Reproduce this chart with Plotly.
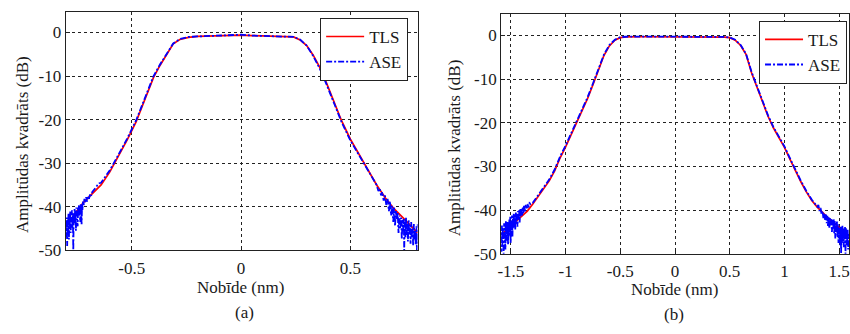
import plotly.graph_objects as go

# ---------------- data: panel (a) ----------------
tls_a_x = [-0.802, -0.78, -0.76, -0.72, -0.68, -0.64, -0.60, -0.56, -0.52, -0.48, -0.44, -0.40,
           -0.37, -0.34, -0.31, -0.28, -0.24, -0.20, -0.15, -0.10, -0.05, 0.00, 0.05, 0.10,
           0.15, 0.20, 0.24, 0.27, 0.30, 0.33, 0.36, 0.39, 0.42, 0.46, 0.50, 0.54, 0.58,
           0.62, 0.66, 0.70, 0.74, 0.78, 0.807]
tls_a_y = [-44.5, -43.2, -41.6, -39.0, -37.0, -35.0, -32.0, -28.3, -24.6, -20.5, -15.5, -10.3,
           -7.5, -5.0, -2.6, -1.6, -1.1, -0.9, -0.8, -0.7, -0.6, -0.6, -0.7, -0.8,
           -0.8, -0.9, -1.0, -1.7, -3.0, -5.2, -8.0, -11.5, -15.3, -20.3, -24.5, -28.0, -31.5,
           -35.0, -38.0, -40.5, -42.5, -44.5, -46.0]

ase_a_x = [-0.801, -0.799, -0.797, -0.795, -0.793, -0.791, -0.789, -0.787, -0.785, -0.783,
           -0.781, -0.779, -0.777, -0.775, -0.773, -0.771, -0.769, -0.767, -0.765, -0.763,
           -0.761, -0.759, -0.757, -0.755, -0.753, -0.751, -0.749, -0.747, -0.745, -0.743,
           -0.741, -0.739, -0.737, -0.735, -0.733, -0.731, -0.729, -0.727, -0.725, -0.723,
           -0.720, -0.716, -0.712, -0.708, -0.704, -0.700, -0.695, -0.690, -0.685, -0.680,
           -0.672, -0.664, -0.656, -0.648, -0.64, -0.60, -0.56, -0.52, -0.48, -0.44, -0.40,
           -0.37, -0.34, -0.31, -0.28, -0.24, -0.20, -0.15, -0.10, -0.05, 0.00, 0.05, 0.10,
           0.15, 0.20, 0.24, 0.27, 0.30, 0.33, 0.36, 0.39, 0.42, 0.46, 0.50, 0.54, 0.58, 0.62,
           0.628, 0.634, 0.640, 0.646, 0.652, 0.658, 0.664, 0.670, 0.676, 0.681, 0.686,
           0.691, 0.696, 0.700, 0.704, 0.708, 0.712, 0.716, 0.720, 0.724, 0.728, 0.732,
           0.735, 0.738, 0.741, 0.744, 0.746, 0.748, 0.751, 0.754, 0.757, 0.760, 0.763,
           0.766, 0.769, 0.772, 0.775, 0.778, 0.781, 0.784, 0.787, 0.790, 0.793, 0.796,
           0.799, 0.802, 0.804, 0.806, 0.808]
ase_a_y = [-44.0, -47.0, -42.5, -49.0, -43.0, -45.5, -41.5, -47.5, -42.0, -44.5,
           -41.0, -46.0, -42.5, -43.5, -40.8, -45.0, -42.0, -50.0, -41.5, -44.0,
           -40.5, -43.5, -41.0, -45.5, -40.2, -42.5, -41.5, -44.5, -40.0, -42.0,
           -39.5, -41.8, -40.2, -43.5, -39.2, -41.0, -44.0, -39.4, -40.8, -38.8,
           -39.8, -38.2, -39.2, -37.8, -38.8, -37.6, -38.2, -37.0, -37.5, -36.6,
           -36.2, -35.6, -35.0, -34.6, -34.5, -31.6, -28.0, -24.3, -20.2, -15.2, -10.0,
           -7.3, -4.9, -2.5, -1.5, -1.0, -0.9, -0.8, -0.7, -0.6, -0.5, -0.7, -0.8,
           -0.8, -0.9, -1.0, -1.6, -3.0, -5.4, -8.3, -11.8, -15.6, -20.6, -24.8, -28.3, -31.8, -35.0,
           -36.4, -35.8, -37.4, -36.6, -38.6, -37.4, -39.6, -38.2, -41.0, -38.8, -42.0,
           -39.8, -43.5, -40.2, -44.5, -41.0, -43.0, -41.2, -46.0, -42.0, -45.0, -42.5,
           -47.5, -43.0, -45.5, -42.8, -50.0, -43.5, -47.0, -42.5, -46.5, -44.0, -48.0,
           -43.0, -46.5, -44.2, -48.5, -43.5, -47.0, -45.0, -49.0, -44.0, -47.5, -45.5,
           -48.8, -44.5, -50.0, -46.0, -44.0]

# ---------------- data: panel (b) ----------------
tls_b_x = [-1.59, -1.55, -1.50, -1.45, -1.40, -1.35, -1.30, -1.25, -1.20, -1.15, -1.10, -1.05,
           -1.00, -0.95, -0.90, -0.85, -0.80, -0.75, -0.70, -0.65, -0.60, -0.55, -0.50,
           -0.45, -0.30, 0.00, 0.30, 0.45, 0.50, 0.55, 0.60, 0.65, 0.70, 0.75, 0.80, 0.85,
           0.90, 0.95, 1.00, 1.05, 1.10, 1.15, 1.20, 1.25, 1.30, 1.35, 1.40, 1.45, 1.50,
           1.55, 1.59]
tls_b_y = [-45.5, -44.8, -43.6, -42.4, -41.3, -40.2, -38.6, -36.8, -35.2, -33.3, -31.0, -28.0,
           -25.5, -22.8, -20.0, -17.3, -14.5, -11.3, -8.0, -4.6, -2.4, -1.1, -0.5,
           -0.35, -0.3, -0.3, -0.35, -0.4, -0.5, -1.1, -2.3, -4.4, -8.6, -12.0, -15.5, -18.5,
           -21.2, -23.5, -25.6, -28.3, -31.0, -33.5, -35.8, -37.8, -39.3, -40.6, -41.8, -42.8, -44.0,
           -45.5, -46.5]

ase_b_x = [-1.590, -1.586, -1.582, -1.578, -1.574, -1.570, -1.566, -1.562, -1.558, -1.554,
           -1.550, -1.546, -1.542, -1.538, -1.534, -1.530, -1.526, -1.522, -1.518, -1.514,
           -1.510, -1.506, -1.502, -1.498, -1.494, -1.490, -1.486, -1.482, -1.478, -1.474,
           -1.470, -1.465, -1.460, -1.455, -1.450, -1.445, -1.440, -1.435, -1.430, -1.425,
           -1.420, -1.415, -1.410, -1.404, -1.398, -1.392, -1.386, -1.380, -1.372, -1.364,
           -1.356, -1.348, -1.340, -1.330, -1.320, -1.30, -1.25, -1.20, -1.15, -1.10, -1.05,
           -1.00, -0.95, -0.90, -0.85, -0.80, -0.75, -0.70, -0.65, -0.60, -0.55, -0.50, -0.45,
           -0.30, 0.00, 0.30, 0.45, 0.50, 0.55, 0.60, 0.65, 0.70, 0.75, 0.80, 0.85, 0.90, 0.95,
           1.00, 1.05, 1.10, 1.15, 1.20, 1.25,
           1.300, 1.310, 1.320, 1.330, 1.340, 1.348, 1.356, 1.364, 1.372, 1.380, 1.386,
           1.392, 1.398, 1.404, 1.410, 1.416, 1.422, 1.428, 1.434, 1.440, 1.445, 1.450,
           1.455, 1.460, 1.465, 1.470, 1.475, 1.480, 1.485, 1.490, 1.494, 1.498, 1.502,
           1.506, 1.510, 1.514, 1.518, 1.522, 1.526, 1.530, 1.534, 1.538, 1.542, 1.546,
           1.550, 1.554, 1.558, 1.562, 1.566, 1.570, 1.574, 1.578, 1.582, 1.586, 1.590]
ase_b_y = [-46.0, -49.5, -43.5, -48.0, -44.0, -47.5, -50.0, -43.0, -46.5, -44.5,
           -49.0, -42.5, -47.0, -43.5, -45.5, -42.5, -48.0, -43.0, -46.0, -42.0,
           -45.0, -41.5, -47.5, -42.5, -44.5, -41.2, -46.0, -42.0, -44.0, -40.8,
           -43.5, -41.0, -44.5, -40.5, -42.5, -40.8, -43.8, -40.2, -42.0, -40.0,
           -42.8, -39.8, -41.5, -39.5, -41.2, -39.2, -40.8, -39.0, -40.3, -38.8,
           -39.8, -38.6, -39.4, -38.4, -38.6, -38.3, -36.5, -34.9, -33.0, -30.7, -27.7,
           -25.2, -22.5, -19.7, -17.0, -14.2, -11.0, -7.7, -4.4, -2.2, -1.0, -0.4, -0.3,
           -0.25, -0.25, -0.3, -0.35, -0.45, -1.0, -2.2, -4.3, -8.4, -11.8, -15.3, -18.3, -21.0, -23.3,
           -25.4, -28.1, -30.8, -33.3, -35.6, -37.6,
           -39.2, -38.8, -40.2, -39.5, -41.0, -40.2, -41.8, -40.6, -42.3, -41.0, -43.0,
           -41.3, -43.6, -41.5, -44.2, -41.8, -43.5, -42.0, -45.0, -42.2, -44.2, -42.0,
           -45.5, -42.5, -46.5, -43.0, -45.0, -42.6, -46.2, -43.2, -47.5, -43.5, -46.0,
           -44.0, -48.2, -43.6, -50.0, -44.0, -47.5, -43.5, -46.5, -44.2, -48.5, -44.5,
           -46.5, -43.8, -50.0, -44.0, -48.0, -45.0, -47.0, -44.5, -49.0, -45.5, -46.0]

# ---------------- ticks ----------------
ya_ticks = [-50, -40, -30, -20, -10, 0]
ya_text = ["-50", "-40", "-30", "-20", "-10", "0"]
xa_ticks = [-0.5, 0, 0.5]
xa_text = ["-0.5", "0", "0.5"]
xb_ticks = [-1.5, -1, -0.5, 0, 0.5, 1, 1.5]
xb_text = ["-1.5", "-1", "-0.5", "0", "0.5", "1", "1.5"]

series_names = ["TLS", "ASE"]
y_title = "Amplitūdas kvadrāts (dB)"
x_title = "Nobīde (nm)"
panel_labels = ["(a)", "(b)"]

# ---------------- figure ----------------
W, H = 850, 334
FONT = "'Liberation Serif', 'Times New Roman', Times, serif"
TXT = "#1a1a1a"
RED = "#ff0000"
BLUE = "#0000ff"
DASHDOT = "6px,2px,2px,2px"

fig = go.Figure()
fig.add_trace(go.Scatter(x=tls_a_x, y=tls_a_y, mode="lines", name=series_names[0],
                         line=dict(color=RED, width=1.7), xaxis="x", yaxis="y", legend="legend"))
fig.add_trace(go.Scatter(x=ase_a_x, y=ase_a_y, mode="lines", name=series_names[1],
                         line=dict(color=BLUE, width=1.8, dash=DASHDOT), xaxis="x", yaxis="y", legend="legend"))
fig.add_trace(go.Scatter(x=tls_b_x, y=tls_b_y, mode="lines", name=series_names[0],
                         line=dict(color=RED, width=1.7), xaxis="x2", yaxis="y2", legend="legend2"))
fig.add_trace(go.Scatter(x=ase_b_x, y=ase_b_y, mode="lines", name=series_names[1],
                         line=dict(color=BLUE, width=1.8, dash=DASHDOT), xaxis="x2", yaxis="y2", legend="legend2"))


def px_x(p):
    return p / W


def px_y(p):
    return 1 - p / H


axis_common = dict(
    showgrid=True, gridcolor="#222", griddash="3px,3px", gridwidth=1,
    zeroline=False, showline=True, linecolor="#222", linewidth=1, mirror=True,
    ticks="inside", ticklen=4, tickcolor="#222",
    tickfont=dict(family=FONT, size=17, color=TXT),
)

fig.update_layout(
    width=W, height=H,
    margin=dict(l=0, r=0, t=0, b=0),
    paper_bgcolor="white", plot_bgcolor="white",
    font=dict(family=FONT, size=17, color=TXT),
    xaxis=dict(domain=[px_x(62), px_x(416)], range=[-0.802, 0.807], anchor="y",
               tickvals=xa_ticks, ticktext=xa_text, ticklabelstandoff=2, **axis_common),
    yaxis=dict(domain=[px_y(258), px_y(12)], range=[-50, 4.8], anchor="x",
               tickvals=ya_ticks, ticktext=ya_text, **axis_common),
    xaxis2=dict(domain=[px_x(500), px_x(850)], range=[-1.59, 1.59], anchor="y2",
                tickvals=xb_ticks, ticktext=xb_text, ticklabelstandoff=2, **axis_common),
    yaxis2=dict(domain=[px_y(261.7), px_y(14)], range=[-50, 5.0], anchor="x2",
                tickvals=ya_ticks, ticktext=ya_text, **axis_common),
    legend=dict(x=px_x(318), y=px_y(18.5), xanchor="left", yanchor="top",
                bgcolor="white", bordercolor="#222", borderwidth=1, itemwidth=38,
                font=dict(family=FONT, size=17, color=TXT)),
    legend2=dict(x=px_x(759.5), y=px_y(21.5), xanchor="left", yanchor="top",
                 bgcolor="white", bordercolor="#222", borderwidth=1, itemwidth=38,
                 font=dict(family=FONT, size=17, color=TXT)),
    showlegend=True,
)

ann = []
ann.append(dict(text=y_title, x=px_x(18.5), y=px_y(149), textangle=-90))
ann.append(dict(text=y_title, x=px_x(453.5), y=px_y(152), textangle=-90))
ann.append(dict(text=x_title, x=px_x(238), y=px_y(296)))
ann.append(dict(text=x_title, x=px_x(674), y=px_y(298)))
ann.append(dict(text=panel_labels[0], x=px_x(242), y=px_y(322)))
ann.append(dict(text=panel_labels[1], x=px_x(674), y=px_y(324)))
for a in ann:
    a.update(xref="paper", yref="paper", xanchor="center", yanchor="middle", showarrow=False,
             font=dict(family=FONT, size=17, color=TXT))
fig.update_layout(annotations=ann)

fig.write_html("out.html")
